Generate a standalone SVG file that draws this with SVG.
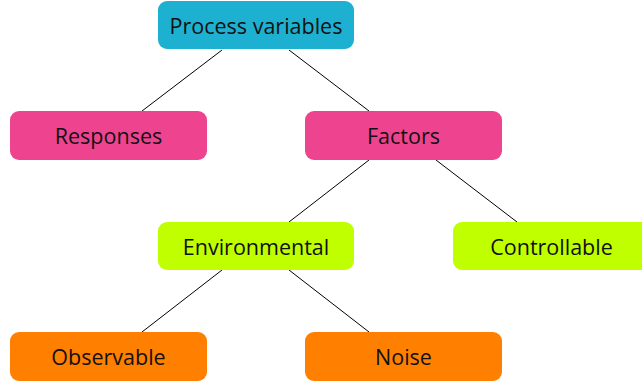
<svg xmlns="http://www.w3.org/2000/svg" width="642" height="382" viewBox="0 0 642 382">
<style>
.n{stroke:none}
.t{font-family:"Open Sans","DejaVu Sans",sans-serif;font-size:21.5px;fill:#111;text-anchor:middle;dominant-baseline:central}
.c{stroke:#000;stroke-width:1;fill:none}
</style>
<rect width="642" height="382" fill="#fff"/>
<g id="connectors">
<line class="c" x1="222" y1="50" x2="142" y2="111"/>
<line class="c" x1="289" y1="50" x2="369" y2="111"/>
<line class="c" x1="369" y1="160" x2="289" y2="222"/>
<line class="c" x1="436" y1="160" x2="517" y2="222"/>
<line class="c" x1="222" y1="270" x2="142" y2="332"/>
<line class="c" x1="289" y1="270" x2="369" y2="332"/>
</g>
<g id="process"><rect class="n" x="158" y="1" width="196" height="48" rx="9" fill="#1eb0d0"/><text class="t" x="256" y="25">Process variables</text></g>
<g id="responses"><rect class="n" x="10" y="111" width="197" height="49" rx="9" fill="#ee4490"/><text class="t" x="108.5" y="135.5">Responses</text></g>
<g id="factors"><rect class="n" x="305" y="111" width="197" height="49" rx="9" fill="#ee4490"/><text class="t" x="403.5" y="135.5">Factors</text></g>
<g id="environmental"><rect class="n" x="158" y="222" width="196" height="48" rx="9" fill="#bfff00"/><text class="t" x="256" y="246">Environmental</text></g>
<g id="controllable"><rect class="n" x="453" y="222" width="197" height="48" rx="9" fill="#bfff00"/><text class="t" x="551.5" y="246">Controllable</text></g>
<g id="observable"><rect class="n" x="10" y="332" width="197" height="49" rx="9" fill="#ff8000"/><text class="t" x="108.5" y="356.5">Observable</text></g>
<g id="noise"><rect class="n" x="305" y="332" width="197" height="49" rx="9" fill="#ff8000"/><text class="t" x="403.5" y="356.5">Noise</text></g>
</svg>
